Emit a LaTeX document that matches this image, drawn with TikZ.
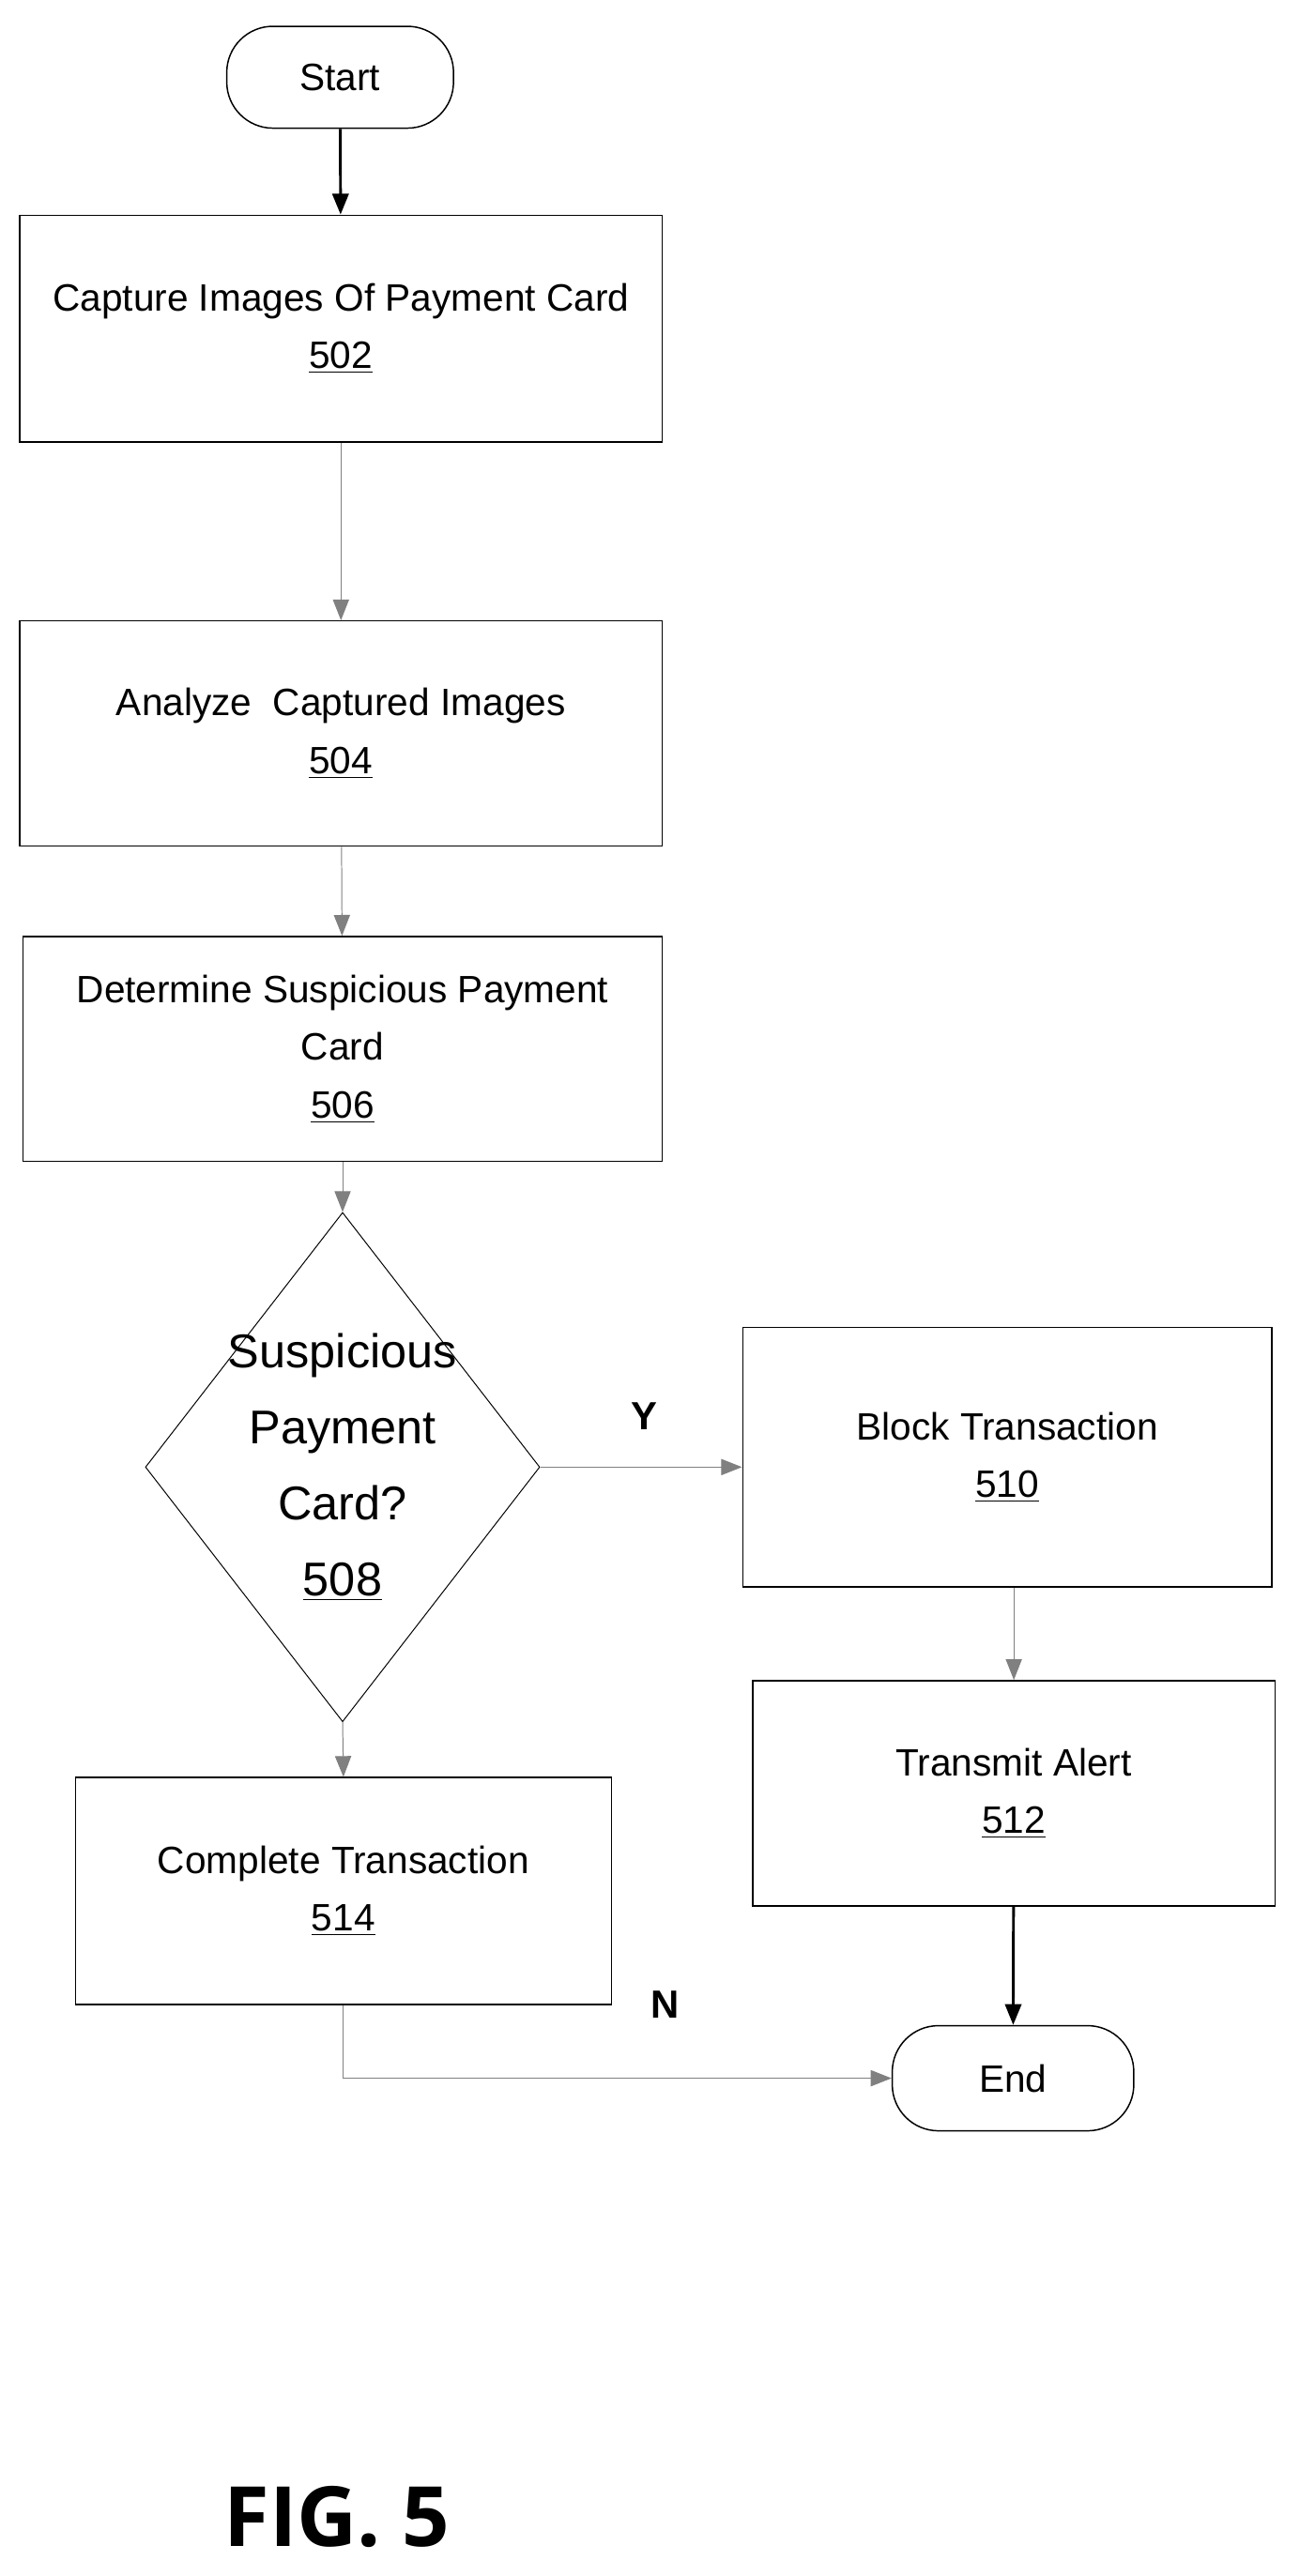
\documentclass[tikz,border=0pt]{standalone}
\usepackage{fontspec}
\setmainfont{Liberation Sans}
\newfontfamily\figfont{Open Sans}
\usetikzlibrary{shapes.geometric,arrows.meta}
\tikzset{
    box/.style={draw, line width=0.6pt, align=center, font=\fontsize{16.5}{25}\selectfont},
    term/.style={box, rounded corners=20pt},
    thin arrow/.style={-{Triangle[length=9pt,width=7pt]}, draw=gray, line width=0.4pt},
    thick arrow/.style={-{Triangle[length=9pt,width=7pt]}, line width=1.2pt},
}
\begin{document}
\begin{tikzpicture}[x=0.025cm, y=-0.025cm]
    \useasboundingbox (0,0) rectangle (800,1568);
    \node[term, minimum width=138*0.025cm, minimum height=62*0.025cm] (start) at (207,47) {Start};
    \node[box, minimum width=391*0.025cm, minimum height=138*0.025cm] (n502) at (207.5,200) {Capture Images Of Payment Card\\\underline{502}};
    \node[box, minimum width=391*0.025cm, minimum height=137*0.025cm] (n504) at (207.5,446.5) {Analyze\ \ Captured Images\\\underline{504}};
    \node[box, minimum width=389*0.025cm, minimum height=137*0.025cm] (n506) at (208.5,638.5) {Determine Suspicious Payment\\Card\\\underline{506}};
    \node[diamond, draw, line width=0.4pt, aspect=0.78, minimum width=240*0.025cm, minimum height=310*0.025cm, inner sep=-14pt, align=center, font=\fontsize{20.5}{33}\selectfont] (n508) at (208.5,893) {Suspicious\\Payment\\Card?\\\underline{508}};
    \node[box, minimum width=322*0.025cm, minimum height=158*0.025cm] (n510) at (613,887) {Block Transaction\\\underline{510}};
    \node[box, minimum width=318*0.025cm, minimum height=137*0.025cm] (n512) at (617,1091.5) {Transmit Alert\\\underline{512}};
    \node[box, minimum width=326*0.025cm, minimum height=138*0.025cm] (n514) at (209,1151) {Complete Transaction\\\underline{514}};
    \node[term, minimum width=147*0.025cm, minimum height=64*0.025cm] (end) at (616.5,1265) {End};
    \coordinate (bend) at (n514.south |- end.west);
    % connectors
    \draw[thick arrow] (start) -- (n502);
    \draw[thin arrow] (n502) -- (n504);
    \draw[thin arrow] (n504) -- (n506);
    \draw[thin arrow] (n506) -- (n508);
    \draw[thin arrow] (n508.east) -- (n510.west |- n508.east);
    \draw[thin arrow] (n510.south -| n512.north) -- (n512);
    \draw[thick arrow] (n512) -- (end);
    \draw[thin arrow] (n508.south) -- (n514.north);
    \draw[thin arrow] (n514.south) -- (bend) -- (end.west);
    \node[font=\bfseries\fontsize{17}{20}\selectfont] (ylab) at (392,862) {Y};
    \node[font=\bfseries\fontsize{17}{20}\selectfont] (nlab) at (405,1220) {N};
    \node[font=\figfont\bfseries\fontsize{36}{44}\selectfont] (fig) at (205,1532) {FIG. 5};
\end{tikzpicture}
\end{document}
